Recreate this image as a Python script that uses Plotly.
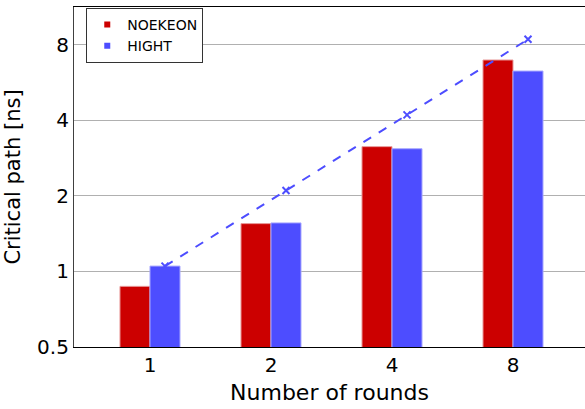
import plotly.graph_objects as go

# Critical path length versus the number of unrolled rounds
rounds = ["1", "2", "4", "8"]
noekeon = [0.872, 1.55, 3.14, 6.95]
hight = [1.05, 1.56, 3.08, 6.28]
hight_ideal = [1.05, 2.1, 4.2, 8.4]  # linear scaling of the single-round HIGHT path

y_ticks = [0.5, 1, 2, 4, 8]
y_tick_text = ["0.5", "1", "2", "4", "8"]

RED = "#CC0000"
BLUE = "#4D4DFF"
BAR_W = 0.248
FONT = "DejaVu Sans"

pos = list(range(len(rounds)))

fig = go.Figure()
fig.add_trace(go.Bar(
    x=pos, y=noekeon, name="NOEKEON", width=BAR_W, offset=-BAR_W,
    marker=dict(color=RED, line=dict(color="#E89A9A", width=1)),
    legendgroup="n", showlegend=False,
))
fig.add_trace(go.Bar(
    x=pos, y=hight, name="HIGHT", width=BAR_W, offset=0,
    marker=dict(color=BLUE, line=dict(color="#A8A8FF", width=1)),
    legendgroup="h", showlegend=False,
))
fig.add_trace(go.Scatter(
    x=[p + BAR_W / 2 for p in pos], y=hight_ideal, mode="lines+markers",
    line=dict(color=BLUE, width=2, dash="dash"),
    marker=dict(symbol="x-thin", size=7, line=dict(color=BLUE, width=2)),
    showlegend=False,
))

# small square legend keys
for name, color, grp in [("NOEKEON", RED, "n"), ("HIGHT", BLUE, "h")]:
    fig.add_trace(go.Scatter(
        x=[None], y=[None], mode="markers", name=name, legendgroup=grp,
        marker=dict(symbol="square", size=6, color=color),
    ))

fig.update_layout(
    width=585, height=409,
    margin=dict(l=74, r=0, t=7, b=62),
    plot_bgcolor="white", paper_bgcolor="white",
    font=dict(family=FONT, color="black", size=20),
    barmode="overlay",
    legend=dict(
        x=0.024, y=0.997, xanchor="left", yanchor="top",
        bgcolor="white", bordercolor="#333333", borderwidth=1,
        font=dict(size=14, family=FONT),
        itemwidth=30, tracegroupgap=0,
        entrywidth=102, entrywidthmode="pixels",
    ),
    xaxis=dict(
        range=[-0.628, 3.595],
        tickmode="array", tickvals=pos, ticktext=rounds,
        showgrid=False, zeroline=False,
        showline=True, linecolor="black", linewidth=1.2, mirror=True,
        ticks="", tickfont=dict(size=20),
        title=dict(text="Number of rounds", font=dict(size=22), standoff=8),
    ),
    yaxis=dict(
        type="log",
        range=[-0.30103, 1.053],
        tickmode="array", tickvals=y_ticks, ticktext=y_tick_text,
        showgrid=True, gridcolor="#B0B0B0", gridwidth=1.2,
        zeroline=False,
        showline=True, linecolor="#404040", linewidth=1.2,
        ticks="", tickfont=dict(size=20),
        title=dict(text="Critical path [ns]", font=dict(size=21), standoff=10),
    ),
)

fig.write_html("out.html")
